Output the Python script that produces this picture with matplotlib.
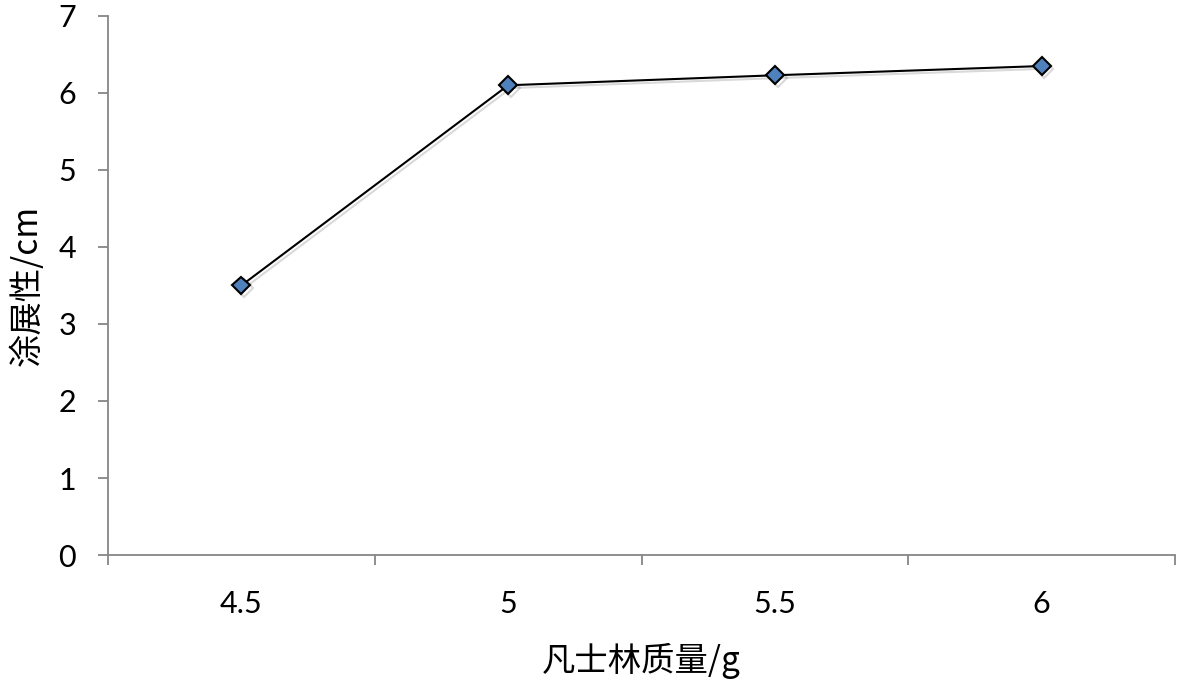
import matplotlib
matplotlib.use("Agg")
import matplotlib.pyplot as plt
import matplotlib.patheffects as pe

plt.rcParams["font.family"] = ["Lato", "Noto Sans CJK SC", "DejaVu Sans"]

# data
categories = ["4.5", "5", "5.5", "6"]
spread_cm  = [3.5, 6.1, 6.23, 6.35]
y_ticks    = [0, 1, 2, 3, 4, 5, 6, 7]

AXIS_GREY = "#868686"

fig = plt.figure(figsize=(11.81, 6.83), dpi=100)
ax = fig.add_axes([0.0914, 0.1874, 0.9036, 0.7892])

x = list(range(len(categories)))
ax.plot(x, spread_cm, color="black", lw=1.5, marker="D", ms=9,
        mfc="#4F81BD", mec="black", mew=1.5, zorder=3,
        path_effects=[pe.SimpleLineShadow(offset=(2, -2), alpha=0.15), pe.Normal()])

ax.set_xlim(-0.5, len(categories) - 0.5)
ax.set_ylim(0, 7)
ax.set_yticks(y_ticks)
ax.set_yticklabels([str(v) for v in y_ticks])

# category axis: ticks sit between categories, labels at centres
ax.set_xticks([i - 0.5 for i in range(len(categories) + 1)])
ax.set_xticklabels([])
ax.set_xticks(x, minor=True)
ax.set_xticklabels(categories, minor=True)
ax.tick_params(axis="x", which="major", length=7, width=1.3, color=AXIS_GREY, direction="out")
ax.tick_params(axis="x", which="minor", length=0, pad=25, labelsize=22)
ax.tick_params(axis="y", length=7, width=1.3, color=AXIS_GREY, direction="out", pad=16, labelsize=22)

for side in ["top", "right"]:
    ax.spines[side].set_visible(False)
for side in ["left", "bottom"]:
    ax.spines[side].set_color(AXIS_GREY)
    ax.spines[side].set_linewidth(1.3)

ax.set_xlabel("凡士林质量/g", fontsize=24, family=["Noto Sans CJK SC", "DejaVu Sans"], labelpad=18)
ax.set_ylabel("涂展性/cm", fontsize=24, family=["Noto Sans CJK SC", "DejaVu Sans"], labelpad=10)

fig.savefig("out.png", dpi=100)
